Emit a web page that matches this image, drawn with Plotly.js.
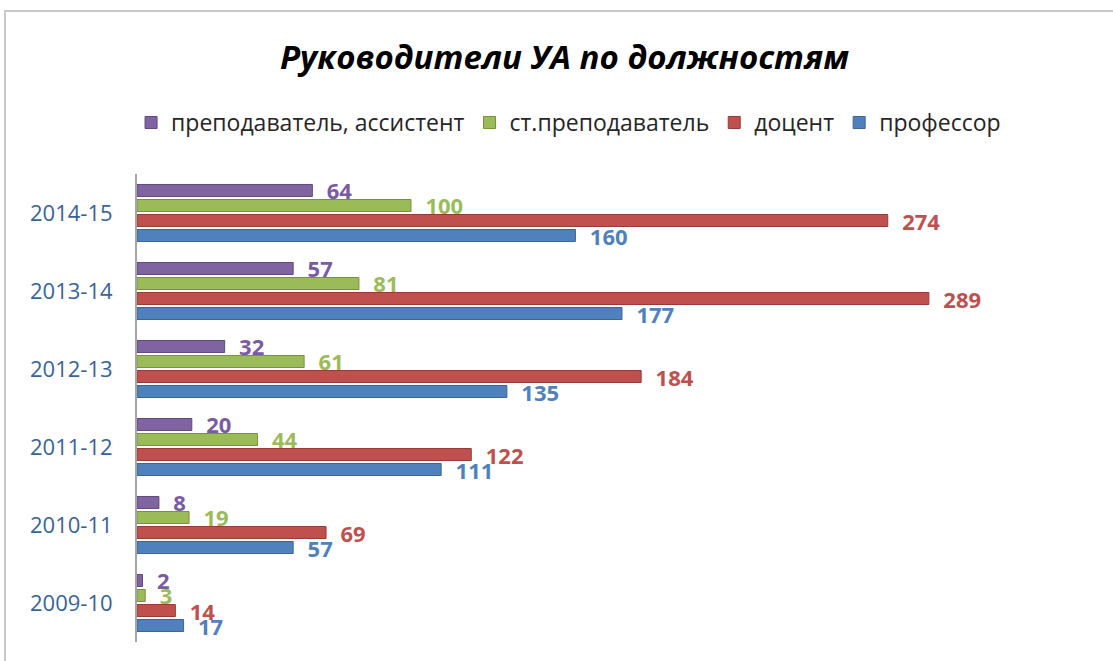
<!DOCTYPE html>
<html>
<head>
<meta charset="utf-8">
<script src="https://cdn.plot.ly/plotly-3.0.1.min.js"></script>
<style>
  html, body { margin: 0; padding: 0; background: #ffffff; }
  #frame { position: absolute; left: 4px; top: 10px; width: 1109px; height: 651px;
           border-top: 2px solid #c9c9c9; border-left: 2px solid #c9c9c9; z-index: 0; }
  #chart { position: absolute; left: 0; top: 0; width: 1113px; height: 661px; z-index: 1; }
</style>
</head>
<body>
<div id="frame"></div>
<div id="chart"></div>
<script>
const categories = ["2009-10", "2010-11", "2011-12", "2012-13", "2013-14", "2014-15"];
const professor  = [17, 57, 111, 135, 177, 160];
const docent     = [14, 69, 122, 184, 289, 274];
const senior     = [3, 19, 44, 61, 81, 100];
const assistant  = [2, 8, 20, 32, 57, 64];
const seriesNames = ["профессор", "доцент", "ст.преподаватель", "преподаватель, ассистент"];
const seriesColors = ["#4f81bd", "#c0504d", "#9bbb59", "#8064a2"];
const lineColors = ["#3a6596", "#963b38", "#76923c", "#5f4a7b"];
const labelColors = ["#4f81bd", "#c0504d", "#9bbb59", "#7a5aa3"];
const seriesValues = [professor, docent, senior, assistant];

const traces = seriesValues.map((vals, i) => ({
  type: "bar",
  orientation: "h",
  name: seriesNames[i],
  y: categories,
  x: vals,
  marker: { color: seriesColors[i], line: { color: lineColors[i], width: 1 } },
  text: vals.map(String),
  texttemplate: "\u00a0\u00a0%{x}",
  textposition: "outside",
  constraintext: "none",
  cliponaxis: false,
  textfont: { family: "Open Sans, Noto Sans, sans-serif", size: 22, color: labelColors[i], weight: "bold" },
  hoverinfo: "x+name"
}));

const layout = {
  width: 1113,
  height: 661,
  paper_bgcolor: "rgba(0,0,0,0)",
  plot_bgcolor: "rgba(0,0,0,0)",
  margin: { l: 137, r: 17, t: 174, b: 19 },
  barmode: "group",
  bargap: 0.23,
  bargroupgap: 0.2,
  title: {
    text: "<b><i>Руководители УА по должностям</i></b>",
    font: { family: "Open Sans, Noto Sans, sans-serif", size: 33, color: "#000000" },
    x: 0.507, xanchor: "center",
    y: 0.913, yanchor: "middle"
  },
  showlegend: true,
  legend: {
    orientation: "h",
    traceorder: "reversed",
    x: 0.45, xanchor: "center",
    y: 1.11, yanchor: "middle",
    font: { family: "Open Sans, Noto Sans, sans-serif", size: 23, color: "#262626" },
    itemwidth: 30,
    bgcolor: "rgba(0,0,0,0)"
  },
  xaxis: {
    range: [0, 350],
    showgrid: false,
    zeroline: false,
    showticklabels: false,
    showline: false,
    ticks: ""
  },
  yaxis: {
    type: "category",
    showgrid: false,
    zeroline: false,
    showline: true,
    linecolor: "#a6a6a6",
    linewidth: 2,
    ticks: "",
    ticklabelstandoff: 18,
    tickfont: { family: "Open Sans, Noto Sans, sans-serif", size: 22, color: "#36649a" }
  }
};

Plotly.newPlot("chart", traces, layout, { displayModeBar: false, staticPlot: true });
</script>
</body>
</html>
